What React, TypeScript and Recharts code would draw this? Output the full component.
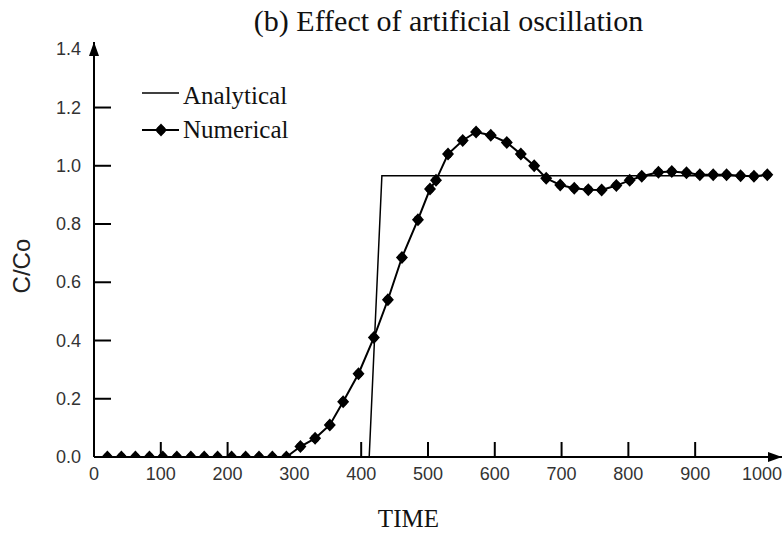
import React from "react";
import { LineChart, Line, XAxis, YAxis, Legend, ReferenceDot } from "recharts";

// numerical solution (time, C/Co)
const numTimes = [
  20, 41, 62, 83, 103, 124, 145, 165, 185, 206, 227, 247, 267, 288, 309, 331,
  353, 373, 396, 419, 440, 461, 485, 503, 512, 530, 552, 572, 594, 618, 639,
  659, 677, 698, 719, 740, 760, 782, 802, 820, 845, 865, 887, 907, 927, 947,
  968, 988, 1008,
];
const numValues = [
  0, 0, 0, 0, 0, 0, 0, 0, 0, 0, 0, 0, 0, 0, 0.036, 0.064, 0.11, 0.19, 0.286,
  0.41, 0.54, 0.685, 0.815, 0.92, 0.95, 1.04, 1.087, 1.116, 1.105, 1.08, 1.04,
  1.0, 0.957, 0.934, 0.923, 0.918, 0.917, 0.932, 0.95, 0.964, 0.978, 0.98,
  0.976, 0.969, 0.969, 0.969, 0.966, 0.964, 0.969,
];

// analytical step solution
const anaTimes = [0, 412, 431, 1000];
const anaValues = [0, 0, 0.966, 0.966];

const xTicks = [0, 100, 200, 300, 400, 500, 600, 700, 800, 900, 1000];
const xTickMarks = [100, 200, 400, 500, 600, 700, 800, 900];
const yTicks = [0, 0.2, 0.4, 0.6, 0.8, 1.0, 1.2, 1.4];
const yTickMarks = [0.2, 0.4, 0.6, 0.8, 1.0, 1.2];

const xMax = 1030;
const yMax = 1.425;

const numData = numTimes.map((t, i) => ({ t, v: numValues[i] }));
const anaData = anaTimes.map((t, i) => ({ t, v: anaValues[i] }));

const SERIF = "'Liberation Serif', 'Times New Roman', serif";
const SANS = "'Liberation Sans', Arial, sans-serif";

const Diamond = ({ cx, cy }: { cx: number; cy: number }) => (
  <g>
    <polygon
      points={`${cx},${cy - 6.5} ${cx + 6},${cy} ${cx},${cy + 6.5} ${cx - 6},${cy}`}
      fill="#000"
    />
    <circle cx={cx} cy={cy} r={4.3} fill="#000" />
  </g>
);

const renderDot = (props: any) => (
  <Diamond key={`d-${props.index}`} cx={props.cx} cy={props.cy} />
);

const ArrowRight = (props: any) => {
  const { cx, cy } = props;
  return <path d={`M${cx},${cy} L${cx - 14},${cy - 5} L${cx - 14},${cy + 5} Z`} fill="#000" />;
};

const ArrowUp = (props: any) => {
  const { cx, cy } = props;
  return <path d={`M${cx},${cy} L${cx - 5},${cy + 14} L${cx + 5},${cy + 14} Z`} fill="#000" />;
};

const XTick = (props: any) => {
  const { x, y, payload } = props;
  return (
    <g>
      {xTickMarks.includes(payload.value) && (
        <line x1={x} y1={y} x2={x} y2={y - 15} stroke="#000" strokeWidth={2} />
      )}
      <text x={x} y={y + 23} textAnchor="middle" fontFamily={SANS} fontSize={18} fill="#333">
        {payload.value}
      </text>
    </g>
  );
};

const YTick = (props: any) => {
  const { x, y, payload } = props;
  return (
    <g>
      {yTickMarks.some((m) => Math.abs(m - payload.value) < 1e-6) && (
        <line x1={x} y1={y} x2={x + 17} y2={y} stroke="#000" strokeWidth={2} />
      )}
      <text x={x - 13} y={y + 6} textAnchor="end" fontFamily={SANS} fontSize={18} fill="#333">
        {payload.value.toFixed(1)}
      </text>
    </g>
  );
};

const YLabel = (props: any) => {
  const vb = props.viewBox;
  const cy = vb.y + vb.height * 0.54;
  return (
    <text
      x={30}
      y={cy}
      transform={`rotate(-90, 30, ${cy})`}
      textAnchor="middle"
      fontFamily={SANS}
      fontSize={24}
      fill="#222"
    >
      C/Co
    </text>
  );
};

const XLabel = (props: any) => {
  const vb = props.viewBox;
  return (
    <text
      x={vb.x + vb.width * 0.457}
      y={vb.y + 70}
      textAnchor="middle"
      fontFamily={SERIF}
      fontSize={25}
      fill="#111"
    >
      TIME
    </text>
  );
};

const LegendBox = () => (
  <svg width={180} height={66}>
    <line x1={3} y1={15} x2={40} y2={15} stroke="#000" strokeWidth={1.5} />
    <text x={44} y={26} fontFamily={SERIF} fontSize={25} fill="#111">
      Analytical
    </text>
    <line x1={3} y1={52} x2={40} y2={52} stroke="#000" strokeWidth={2} />
    <Diamond cx={22} cy={52} />
    <text x={44} y={60} fontFamily={SERIF} fontSize={25} fill="#111">
      Numerical
    </text>
  </svg>
);

export default function App() {
  return (
    <div style={{ position: "absolute", left: 0, top: 0, width: 783, height: 533, background: "#fff" }}>
      <div
        style={{
          position: "absolute",
          left: 0,
          width: 897,
          top: 4,
          textAlign: "center",
          fontFamily: SERIF,
          fontSize: 30,
          color: "#111",
        }}
      >
        (b) Effect of artificial oscillation
      </div>
      <LineChart
        width={783}
        height={533}
        margin={{ top: 42, right: 1, bottom: 0, left: 0 }}
      >
        <XAxis
          type="number"
          dataKey="t"
          domain={[0, xMax]}
          ticks={xTicks}
          height={76}
          tickSize={0}
          tickMargin={0}
          tickLine={false}
          tick={<XTick />}
          axisLine={{ stroke: "#000", strokeWidth: 2 }}
          allowDataOverflow
          label={<XLabel />}
        />
        <YAxis
          type="number"
          domain={[0, yMax]}
          ticks={yTicks}
          width={94}
          tickSize={0}
          tickMargin={0}
          tickLine={false}
          tick={<YTick />}
          axisLine={{ stroke: "#000", strokeWidth: 2 }}
          allowDataOverflow
          label={<YLabel />}
        />
        <Legend
          layout="vertical"
          verticalAlign="middle"
          align="center"
          content={<LegendBox />}
          wrapperStyle={{ top: 78, left: 139, width: 180, height: 66 }}
        />
        <ReferenceDot x={xMax} y={0} shape={<ArrowRight />} ifOverflow="visible" />
        <ReferenceDot x={0} y={yMax} shape={<ArrowUp />} ifOverflow="visible" />
        <Line
          data={anaData}
          dataKey="v"
          name="Analytical"
          type="linear"
          stroke="#000"
          strokeWidth={1.5}
          dot={false}
          activeDot={false}
          isAnimationActive={false}
        />
        <Line
          data={numData}
          dataKey="v"
          name="Numerical"
          type="linear"
          stroke="#000"
          strokeWidth={2}
          dot={renderDot}
          activeDot={false}
          isAnimationActive={false}
        />
      </LineChart>
    </div>
  );
}
